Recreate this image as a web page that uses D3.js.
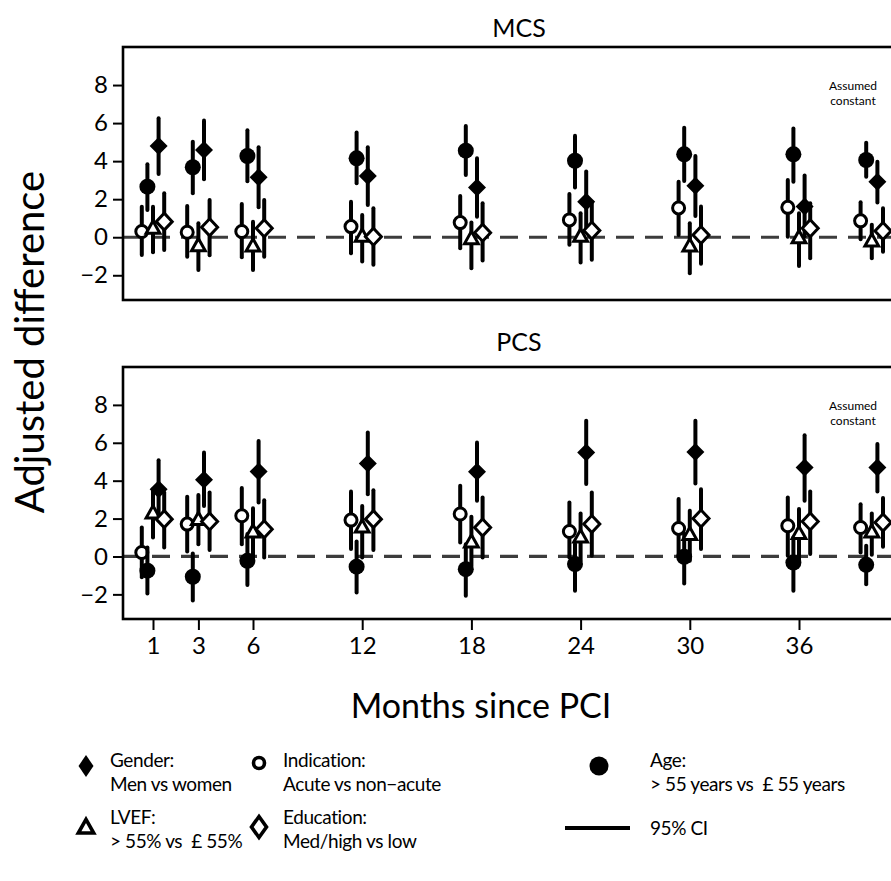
<!DOCTYPE html>
<html>
<head>
<meta charset="utf-8">
<script src="https://cdn.jsdelivr.net/npm/d3@7"></script>
<style>
  body { margin: 0; background: #fff; }
  text { font-family: Lato, "Open Sans", sans-serif; fill: #000; white-space: pre; }
</style>
</head>
<body>
<div id="chart"></div>
<script>
// months since PCI (40 = "assumed constant" column)
const months = [1, 3, 6, 12, 18, 24, 30, 36, 40]
const monthTicks = [1, 3, 6, 12, 18, 24, 30, 36]
const yTicks = [-2, 0, 2, 4, 6, 8]

// each entry: [estimate, lower 95% CI, upper 95% CI]
const mcsIndication = [[0.30,-0.93,1.60],[0.26,-1.02,1.64],[0.30,-1.05,1.75],[0.56,-0.84,1.87],[0.77,-0.58,2.17],[0.91,-0.40,2.27],[1.54,0.12,2.92],[1.57,0.03,3.01],[0.86,-0.10,1.84]]
const mcsAge        = [[2.66,1.43,3.83],[3.68,2.31,5.02],[4.27,2.94,5.62],[4.15,2.84,5.51],[4.55,3.27,5.85],[4.02,2.61,5.34],[4.36,2.96,5.76],[4.36,2.92,5.72],[4.06,3.18,4.97]]
const mcsLvef       = [[0.45,-0.79,1.60],[-0.47,-1.72,0.74],[-0.49,-1.72,0.82],[0.03,-1.28,1.17],[-0.10,-1.63,0.77],[0.03,-1.33,1.26],[-0.49,-1.89,0.74],[-0.05,-1.51,1.26],[-0.23,-1.10,0.65]]
const mcsGender     = [[4.80,3.32,6.25],[4.59,3.05,6.13],[3.15,1.58,4.73],[3.22,1.70,4.73],[2.62,1.08,4.15],[1.87,0.32,3.45],[2.71,1.12,4.27],[1.62,0.05,3.25],[2.92,1.82,3.97]]
const mcsEducation  = [[0.82,-0.67,2.31],[0.52,-0.95,1.96],[0.47,-1.02,1.96],[0.03,-1.45,1.52],[0.24,-1.23,1.79],[0.35,-1.19,1.87],[0.12,-1.40,1.61],[0.47,-1.10,1.79],[0.33,-0.76,1.52]]

const pcsIndication = [[0.21,-1.10,1.53],[1.71,0.26,3.15],[2.15,0.65,3.61],[1.92,0.39,3.43],[2.24,0.74,3.73],[1.32,-0.05,2.85],[1.48,0.04,3.03],[1.62,0.04,3.11],[1.53,0.21,2.76]]
const pcsAge        = [[-0.75,-1.95,0.47],[-1.07,-2.33,0.16],[-0.23,-1.51,1.18],[-0.54,-1.90,0.79],[-0.67,-2.07,0.65],[-0.40,-1.81,0.67],[-0.02,-1.42,1.18],[-0.32,-1.81,1.00],[-0.44,-1.46,0.56]]
const pcsLvef       = [[2.27,1.00,3.55],[1.92,0.65,3.25],[1.27,-0.05,2.55],[1.53,-0.05,2.67],[0.74,-0.49,2.09],[1.00,-0.23,2.27],[1.13,-0.23,2.41],[1.18,-0.23,2.50],[1.27,0.09,2.27]]
const pcsGender     = [[3.55,2.15,5.08],[4.05,2.67,5.49],[4.48,2.85,6.10],[4.91,3.29,6.54],[4.47,2.94,6.01],[5.49,3.82,7.16],[5.52,3.85,7.16],[4.70,2.94,6.40],[4.70,3.43,5.93]]
const pcsEducation  = [[1.97,0.47,3.38],[1.85,0.34,3.38],[1.44,-0.05,2.97],[1.97,0.34,3.50],[1.53,-0.05,3.11],[1.71,0.04,3.38],[2.00,0.39,3.55],[1.85,0.13,3.43],[1.79,0.51,3.08]]

const width = 891, height = 881
const left = 123, right = 905

const svg = d3.select('#chart').append('svg')
    .attr('width', width)
    .attr('height', height)

// month 1 sits a bit further left than a linear axis would put it
const x = d3.scaleLinear()
    .domain([1, 3, 40])
    .range([153, 198.4, 871.8])

const shapes = {
    circle: r => `M${r},0A${r},${r} 0 1,1 ${-r},0A${r},${r} 0 1,1 ${r},0Z`,
    diamond: (w, h) => `M0,${-h}L${w},0L0,${h}L${-w},0Z`,
    triangle: s => `M0,${-s * 0.62}L${s * 0.55},${s * 0.36}L${-s * 0.55},${s * 0.36}Z`,
}

const series = [
    { key: 'indication', off: -2, path: shapes.circle(6), fill: '#fff', stroke: 3 },
    { key: 'age', off: -1, path: shapes.circle(8), fill: '#000', stroke: 0 },
    { key: 'lvef', off: 0, path: shapes.triangle(12.5), fill: '#fff', stroke: 3 },
    { key: 'gender', off: 1, path: shapes.diamond(9, 9), fill: '#000', stroke: 0 },
    { key: 'education', off: 2, path: shapes.diamond(8, 8.5), fill: '#fff', stroke: 3 },
]

const panels = [
    { name: 'MCS', top: 47, bottom: 300, titleY: 28,
      data: { indication: mcsIndication, age: mcsAge, lvef: mcsLvef, gender: mcsGender, education: mcsEducation } },
    { name: 'PCS', top: 367, bottom: 619, titleY: 342,
      data: { indication: pcsIndication, age: pcsAge, lvef: pcsLvef, gender: pcsGender, education: pcsEducation } },
]

const step = 5.6

panels.forEach((p, pi) => {
    const y = d3.scaleLinear()
        .domain([-3.3, 10])
        .range([p.bottom, p.top])

    const g = svg.append('g')

    g.append('text')
        .attr('x', 519)
        .attr('y', p.titleY)
        .attr('dy', '0.35em')
        .attr('text-anchor', 'middle')
        .style('font-size', '25px')
        .text(p.name)

    // zero reference
    g.append('line')
        .attr('x1', left).attr('x2', right)
        .attr('y1', y(0)).attr('y2', y(0))
        .attr('stroke', '#3c3c3c')
        .attr('stroke-width', 3.2)
        .attr('stroke-dasharray', '18,11')

    const yAxis = g.append('g')
        .attr('transform', `translate(${left},0)`)
        .call(d3.axisLeft(y).tickValues(yTicks).tickSize(10).tickPadding(5))
    yAxis.select('.domain').remove()
    yAxis.selectAll('line').attr('stroke-width', 2)
    yAxis.selectAll('text').style('font-size', '24px').style('font-family', 'Lato, sans-serif')

    if (pi === 1) {
        const xAxis = g.append('g')
            .attr('transform', `translate(0,${p.bottom})`)
            .call(d3.axisBottom(x).tickValues(monthTicks).tickSize(11).tickPadding(7))
        xAxis.select('.domain').remove()
        xAxis.selectAll('line').attr('stroke-width', 2)
        xAxis.selectAll('text').style('font-size', '24px').style('font-family', 'Lato, sans-serif')
    }

    g.append('text')
        .attr('x', 853)
        .attr('text-anchor', 'middle')
        .style('font-size', '12px')
        .selectAll('tspan')
        .data(['Assumed', 'constant'])
        .join('tspan')
        .attr('x', 853)
        .attr('y', (d, i) => p.top + 43 + i * 15)
        .text(d => d)

    series.forEach(s => {
        const rows = p.data[s.key].map((v, i) => ({ m: months[i], est: v[0], lo: v[1], hi: v[2] }))
        const sg = g.append('g')
        sg.selectAll('line')
            .data(rows)
            .join('line')
            .attr('x1', d => x(d.m) + s.off * step)
            .attr('x2', d => x(d.m) + s.off * step)
            .attr('y1', d => y(d.lo))
            .attr('y2', d => y(d.hi))
            .attr('stroke', '#000')
            .attr('stroke-width', 4)
            .attr('stroke-linecap', 'round')
        sg.selectAll('path')
            .data(rows)
            .join('path')
            .attr('d', s.path)
            .attr('transform', d => `translate(${x(d.m) + s.off * step},${y(d.est)})`)
            .attr('fill', s.fill)
            .attr('stroke', s.stroke ? '#000' : 'none')
            .attr('stroke-width', s.stroke)
    })

    g.append('rect')
        .attr('x', left).attr('y', p.top)
        .attr('width', right - left).attr('height', p.bottom - p.top)
        .attr('fill', 'none')
        .attr('stroke', '#000')
        .attr('stroke-width', 2.6)
})

svg.append('text')
    .attr('transform', 'translate(30,342) rotate(-90)')
    .attr('dy', '0.35em')
    .attr('text-anchor', 'middle')
    .style('font-size', '40px')
    .text('Adjusted difference')

svg.append('text')
    .attr('x', 481).attr('y', 706)
    .attr('dy', '0.35em')
    .attr('text-anchor', 'middle')
    .style('font-size', '34px')
    .text('Months since PCI')

// legend
const legendLabels = [
    { lines: ['Gender:', 'Men vs women'], mx: 86, my: 766, tx: 110, ty: 760, path: shapes.diamond(7.5, 11), fill: '#000', stroke: 0 },
    { lines: ['Indication:', 'Acute vs non\u2212acute'], mx: 259, my: 763, tx: 283, ty: 760, path: shapes.circle(5.5), fill: '#fff', stroke: 3.6 },
    { lines: ['Age:', '> 55 years vs  \u00a3 55 years'], mx: 599, my: 766, tx: 650, ty: 760, path: shapes.circle(9.5), fill: '#000', stroke: 0 },
    { lines: ['LVEF:', '> 55% vs  \u00a3 55%'], mx: 86, my: 828, tx: 110, ty: 817, path: shapes.triangle(14), fill: '#fff', stroke: 3.6 },
    { lines: ['Education:', 'Med/high vs low'], mx: 259, my: 827, tx: 283, ty: 817, path: shapes.diamond(7.5, 10.5), fill: '#fff', stroke: 3.6 },
]

const lg = svg.append('g')
legendLabels.forEach(d => {
    lg.append('path')
        .attr('d', d.path)
        .attr('transform', `translate(${d.mx},${d.my})`)
        .attr('fill', d.fill)
        .attr('stroke', d.stroke ? '#000' : 'none')
        .attr('stroke-width', d.stroke)
    lg.append('text')
        .style('font-size', '19px')
        .style('letter-spacing', '-0.4px')
        .selectAll('tspan')
        .data(d.lines)
        .join('tspan')
        .attr('x', d.tx)
        .attr('y', (t, i) => d.ty + i * 24)
        .attr('dy', '0.35em')
        .text(t => t)
})

lg.append('line')
    .attr('x1', 565).attr('x2', 630)
    .attr('y1', 828).attr('y2', 828)
    .attr('stroke', '#000')
    .attr('stroke-width', 4)
lg.append('text')
    .attr('x', 650).attr('y', 828)
    .attr('dy', '0.35em')
    .style('font-size', '19px')
    .style('letter-spacing', '-0.4px')
    .text('95% CI')
</script>
</body>
</html>
